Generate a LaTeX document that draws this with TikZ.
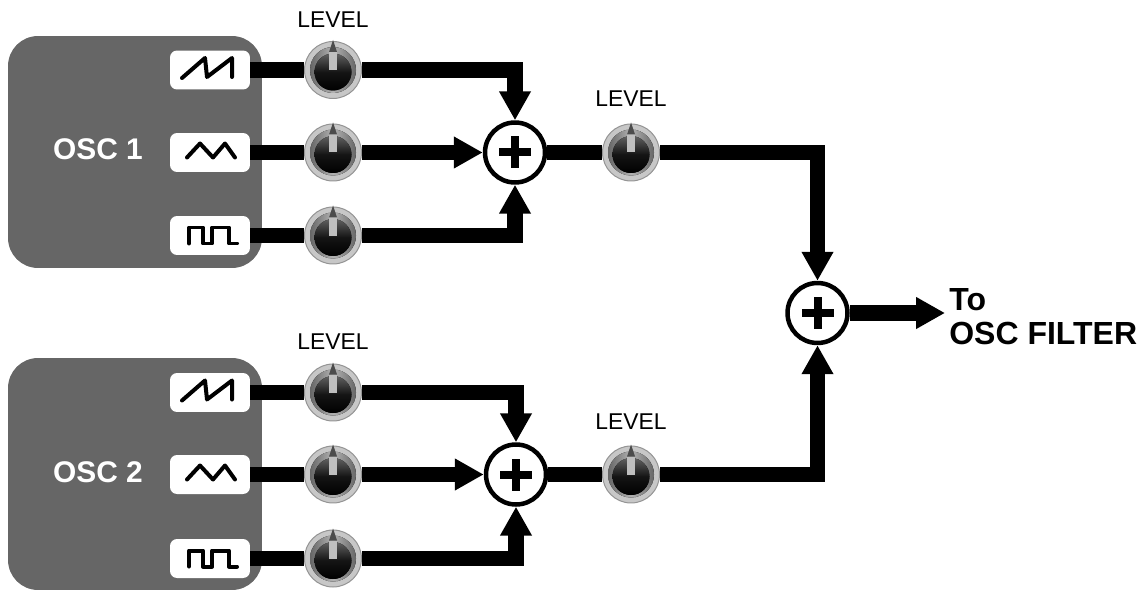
\documentclass[tikz,border=0pt]{standalone}
\usepackage{fontspec}
\setmainfont{Liberation Sans}
\usetikzlibrary{arrows.meta, shapes.geometric}
\definecolor{oscgray}{HTML}{666666}
\tikzset{
    oscbox/.style={fill=oscgray, rounded corners=0.6cm, minimum width=5.08cm, minimum height=4.64cm, inner sep=0pt},
    osclabel/.style={text=white, font=\bfseries\fontsize{17}{20}\selectfont, inner sep=0pt},
    wavebox/.style={fill=white, rounded corners=0.14cm, minimum width=1.6cm, minimum height=0.78cm, inner sep=0pt},
    waveline/.style={line width=0.08cm, line join=round, line cap=round},
    knobring/.style={circle, fill=black!22, draw=black!42, line width=0.02cm, minimum size=1.14cm, inner sep=0pt},
    sumnode/.style={circle, fill=white, draw=black, line width=0.09cm, minimum size=1.2cm, inner sep=0pt},
    levellabel/.style={font=\fontsize{13}{15}\selectfont, inner sep=0pt},
    wire/.style={line width=0.31cm, draw=black},
    wirearrow/.style={wire, -{Triangle[length=0.58cm, width=0.6cm]}},
    sawicon/.pic={\draw[waveline] (-28,8) -- (-5,-12) -- (-3,7) -- (22,-12) -- (22,7);},
    triicon/.pic={\draw[waveline] (-23,5) -- (-10,-9) -- (3,5) -- (15,-9) -- (25,5);},
    squareicon/.pic={\draw[waveline] (-21,8) -- (-21,-8) -- (-7,-8) -- (-7,8) -- (2,8) -- (2,-8) -- (19,-8) -- (19,8) -- (27,8);},
    knobcap/.pic={
        \fill[left color=black!60, right color=black!60, middle color=black!30] (0,0) circle (23);
        \fill[top color=black!62, bottom color=black, middle color=black!92] (0,2) circle (18.5);
        \fill[black!25] (-4,-18) rectangle (4,0);
        \fill[black!70] (-4,-18) -- (0,-30) -- (4,-18) -- cycle;
    },
    sumplus/.pic={
        \fill (-16,-4) rectangle (16,4);
        \fill (-4,-16) rectangle (4,16);
    }
}
\begin{document}
\begin{tikzpicture}[x=0.02cm, y=-0.02cm]
    \useasboundingbox (0,0) rectangle (1142,591);

    % Oscillator panels
    \node[oscbox] (oscA) at (135,152) {};
    \node[oscbox] (oscB) at (135,474) {};
    \node[osclabel] (nameA) at (98,149) {OSC 1};
    \node[osclabel] (nameB) at (98,472) {OSC 2};

    % Waveform boxes
    \node[wavebox] (waveAa) at (210,70) {};
    \node[wavebox] (waveAb) at (210,152.5) {};
    \node[wavebox] (waveAc) at (210,235.5) {};
    \node[wavebox] (waveBa) at (210,392.5) {};
    \node[wavebox] (waveBb) at (210,474.5) {};
    \node[wavebox] (waveBc) at (210,558.5) {};

    % Level knobs
    \node[knobring] (knobAa) at (333,70) {};
    \node[knobring] (knobAb) at (333,152.5) {};
    \node[knobring] (knobAc) at (333,235.5) {};
    \node[knobring] (knobBa) at (333,392.5) {};
    \node[knobring] (knobBb) at (333,474.5) {};
    \node[knobring] (knobBc) at (333,558.5) {};
    \node[knobring] (knobA) at (631,152.5) {};
    \node[knobring] (knobB) at (631,474.5) {};

    % Summing points
    \node[sumnode] (sumA) at (515,152.5) {};
    \node[sumnode] (sumB) at (516,474.5) {};
    \node[sumnode] (sumC) at (817.5,313) {};

    % Labels
    \node[levellabel] (levelAa) at (333,20) {LEVEL};
    \node[levellabel] (levelA) at (631,99) {LEVEL};
    \node[levellabel] (levelBa) at (333,342) {LEVEL};
    \node[levellabel] (levelB) at (631,422) {LEVEL};
    \node[anchor=west, align=left, inner sep=0pt, font=\bfseries\fontsize{18.2}{19.4}\selectfont] (filter) at (949,317) {To\\OSC FILTER};

    % Wires into the first summing point
    \draw[wire] (waveAa) -- (knobAa);
    \draw[wire] (waveAb) -- (knobAb);
    \draw[wire] (waveAc) -- (knobAc);
    \draw[wirearrow] (knobAa) -| (sumA);
    \draw[wirearrow] (knobAb) -- (sumA);
    \draw[wirearrow] (knobAc) -| (sumA);

    % Wires into the second summing point
    \draw[wire] (waveBa) -- (knobBa);
    \draw[wire] (waveBb) -- (knobBb);
    \draw[wire] (waveBc) -- (knobBc);
    \draw[wirearrow] (knobBa) -| (sumB);
    \draw[wirearrow] (knobBb) -- (sumB);
    \draw[wirearrow] (knobBc) -| (sumB);

    % Wires to the output
    \draw[wire] (sumA) -- (knobA);
    \draw[wire] (sumB) -- (knobB);
    \draw[wirearrow] (knobA) -| (sumC);
    \draw[wirearrow] (knobB) -| (sumC);
    \draw[wirearrow, shorten >=0.08cm] (sumC) -- (sumC -| filter.west);

    % Waveform icons
    \foreach \w in {Aa, Ba} \pic at (wave\w) {sawicon};
    \foreach \w in {Ab, Bb} \pic at (wave\w) {triicon};
    \foreach \w in {Ac, Bc} \pic at (wave\w) {squareicon};

    % Knob caps and plus signs
    \foreach \k in {Aa, Ab, Ac, Ba, Bb, Bc, A, B} \pic at (knob\k) {knobcap};
    \foreach \s in {A, B, C} \pic at (sum\s) {sumplus};
\end{tikzpicture}
\end{document}
